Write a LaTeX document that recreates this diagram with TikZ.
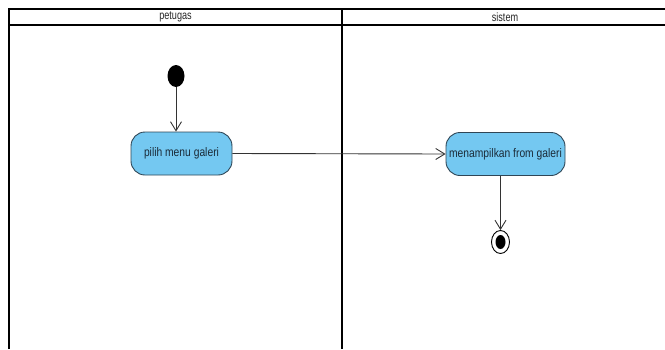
\documentclass[tikz,border=0pt]{standalone}
\usepackage{fontspec}
\setmainfont{Liberation Sans}
\usetikzlibrary{arrows.meta,shapes.geometric}
\definecolor{actfill}{HTML}{74C8F1}
\definecolor{actline}{HTML}{2F4656}
\definecolor{acttext}{HTML}{1B2B38}
\definecolor{flowline}{HTML}{333333}
\tikzset{
  lane/.style={line width=2.2pt,black},
  actbox/.style={draw=actline,fill=actfill,line width=0.9pt,rounded corners=14pt,
    minimum width=101pt,minimum height=43pt,inner sep=0pt,text=acttext,
    font=\fontsize{10.3}{12}\selectfont},
  lanetitle/.style={font=\fontsize{9.6}{11}\selectfont,inner sep=0pt,text=black!85},
  flow/.style={draw=flowline,line width=0.9pt,-{Straight Barb[length=9pt,width=11pt,line width=0.9pt]}},
  startdot/.style={ellipse,fill=black,minimum width=17pt,minimum height=22pt,inner sep=0pt},
  endring/.style={ellipse,draw=black,line width=0.9pt,fill=white,minimum width=18pt,minimum height=23pt,inner sep=0pt},
  enddot/.style={ellipse,fill=black,minimum width=10pt,minimum height=14pt,inner sep=0pt},
}
\begin{document}
\begin{tikzpicture}[x=1pt,y=-1pt]
\useasboundingbox (0,0) rectangle (665,349);
% swimlane frame
\draw[lane] (9,349) -- (9,9) -- (668,9);
\draw[lane] (9,25) -- (668,25);
\draw[lane] (342,9) -- (342,349);
\node[lanetitle] (petugas) at (175.5,17) {\scalebox{0.95}[1.25]{petugas}};
\node[lanetitle] (sistem) at (505,17) {\scalebox{0.95}[1.25]{sistem}};
% activity nodes
\node[startdot] (start) at (176,76) {};
\node[actbox] (pilih) at (181.5,153.5) {\scalebox{1}[1.2]{pilih menu galeri}};
\node[actbox,minimum width=119pt] (tampil) at (505.5,154) {\scalebox{1}[1.2]{menampilkan from galeri}};
\node[endring] (final) at (500.5,242) {};
\node[enddot] (finaldot) at (final.center) {};
% control flows
\draw[flow] (start) -- (start |- pilih.north);
\draw[flow] (pilih.east) -- (tampil.west);
\draw[flow] (final |- tampil.south) -- (final.north);
\end{tikzpicture}
\end{document}
